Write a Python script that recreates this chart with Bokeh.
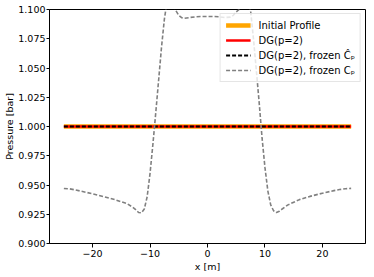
from bokeh.plotting import figure
from bokeh.models import FixedTicker, PrintfTickFormatter, Range1d, Legend, LegendItem
from bokeh.embed import file_html
from bokeh.resources import INLINE

# ---- data ----
x_line = [-25, 25]
init_profile = [1.0, 1.0]
dg_p2 = [1.0, 1.0]
dg_frozen_hat = [1.0, 1.0]

x_frozen = [-25, -24, -23, -22, -20, -18, -16, -14, -13, -12.5, -12, -11.5, -11, -10.5,
            -10, -9.5, -9, -8.5, -8, -7.5, -7, -6.5, -6, -5.5, -5, -4.5, -4, -3, -2, -1,
            0, 1, 2, 3, 4, 4.5, 5, 5.5, 6, 6.5, 7, 7.5, 8, 8.5, 9, 9.5, 10, 10.5, 11,
            11.5, 12, 12.5, 13, 14, 16, 18, 20, 22, 23, 24, 25]
y_frozen = [0.9470, 0.9467, 0.9458, 0.9447, 0.9425, 0.9400, 0.9373, 0.9340, 0.9310, 0.9290,
            0.9265, 0.9262, 0.9295, 0.9400, 0.9600, 0.9850, 1.0120, 1.0400, 1.0680, 1.0920,
            1.1080, 1.1140, 1.1080, 1.0990, 1.0950, 1.0930, 1.0925, 1.0932, 1.0938, 1.0940,
            1.0940, 1.0940, 1.0938, 1.0932, 1.0935, 1.0950, 1.0980, 1.1000, 1.1050, 1.1120,
            1.1080, 1.0990, 1.0750, 1.0480, 1.0200, 0.9900, 0.9650, 0.9450, 0.9330, 0.9280,
            0.9265, 0.9275, 0.9295, 0.9330, 0.9375, 0.9405, 0.9430, 0.9452, 0.9461, 0.9468,
            0.9471]

x_ticks = [-20, -10, 0, 10, 20]
x_tick_labels = ["\u221220", "\u221210", "0", "10", "20"]
y_ticks = [0.900, 0.925, 0.950, 0.975, 1.000, 1.025, 1.050, 1.075, 1.100]

labels = ["Initial Profile", "DG(p=2)", "DG(p=2), frozen \u0108\u209a", "DG(p=2), frozen C\u209a"]

FONT = "DejaVu Sans"

p = figure(width=374, height=277, output_backend="svg", toolbar_location=None,
           x_range=Range1d(-27.5, 27.5), y_range=Range1d(0.9, 1.1),
           min_border_left=49, min_border_right=9, min_border_top=9, min_border_bottom=34)

p.xgrid.visible = False
p.ygrid.visible = False
p.outline_line_color = "black"
p.outline_line_width = 1
p.outline_line_alpha = 1

r1 = p.line(x_line, init_profile, line_color="#FFA500", line_width=4.5)
r2 = p.line(x_line, dg_p2, line_color="#FF0000", line_width=2.5)
r3 = p.line(x_line, dg_frozen_hat, line_color="black", line_width=1.8, line_dash="4 2")
r4 = p.line(x_frozen, y_frozen, line_color="#808080", line_width=1.6, line_dash="4 2")

p.xaxis.ticker = FixedTicker(ticks=x_ticks)
p.xaxis.major_label_overrides = {t: l for t, l in zip(x_ticks, x_tick_labels)}
p.yaxis.ticker = FixedTicker(ticks=y_ticks)
p.yaxis.formatter = PrintfTickFormatter(format="%.3f")

p.xaxis.axis_label = "x [m]"
p.yaxis.axis_label = "Pressure [bar]"

for ax in (p.xaxis[0], p.yaxis[0]):
    ax.axis_label_text_font = FONT
    ax.axis_label_text_font_size = "9.5px"
    ax.axis_label_text_font_style = "normal"
    ax.axis_label_text_color = "black"
    ax.axis_label_standoff = 1
    ax.major_label_text_font = FONT
    ax.major_label_text_font_size = "9.5px"
    ax.major_label_text_color = "black"
    ax.major_label_standoff = 2
    ax.major_tick_in = 0
    ax.major_tick_out = 4
    ax.minor_tick_in = 0
    ax.minor_tick_out = 0
    ax.axis_line_color = "black"
    ax.major_tick_line_color = "black"

p.yaxis[0].axis_label_standoff = 0
p.yaxis[0].major_label_standoff = 1
p.yaxis[0].major_tick_out = 3

legend = Legend(items=[LegendItem(label=l, renderers=[r]) for l, r in zip(labels, [r1, r2, r3, r4])],
                location="top_right")
legend.label_text_font = FONT
legend.label_text_font_size = "10px"
legend.label_text_color = "black"
legend.glyph_width = 25
legend.glyph_height = 12
legend.label_height = 12
legend.label_standoff = 8
legend.spacing = 3
legend.padding = 5
legend.margin = 4
legend.border_line_color = "#cccccc"
legend.border_line_width = 1
legend.background_fill_alpha = 0.8
p.add_layout(legend)

open("out.html", "w").write(file_html(p, INLINE))
